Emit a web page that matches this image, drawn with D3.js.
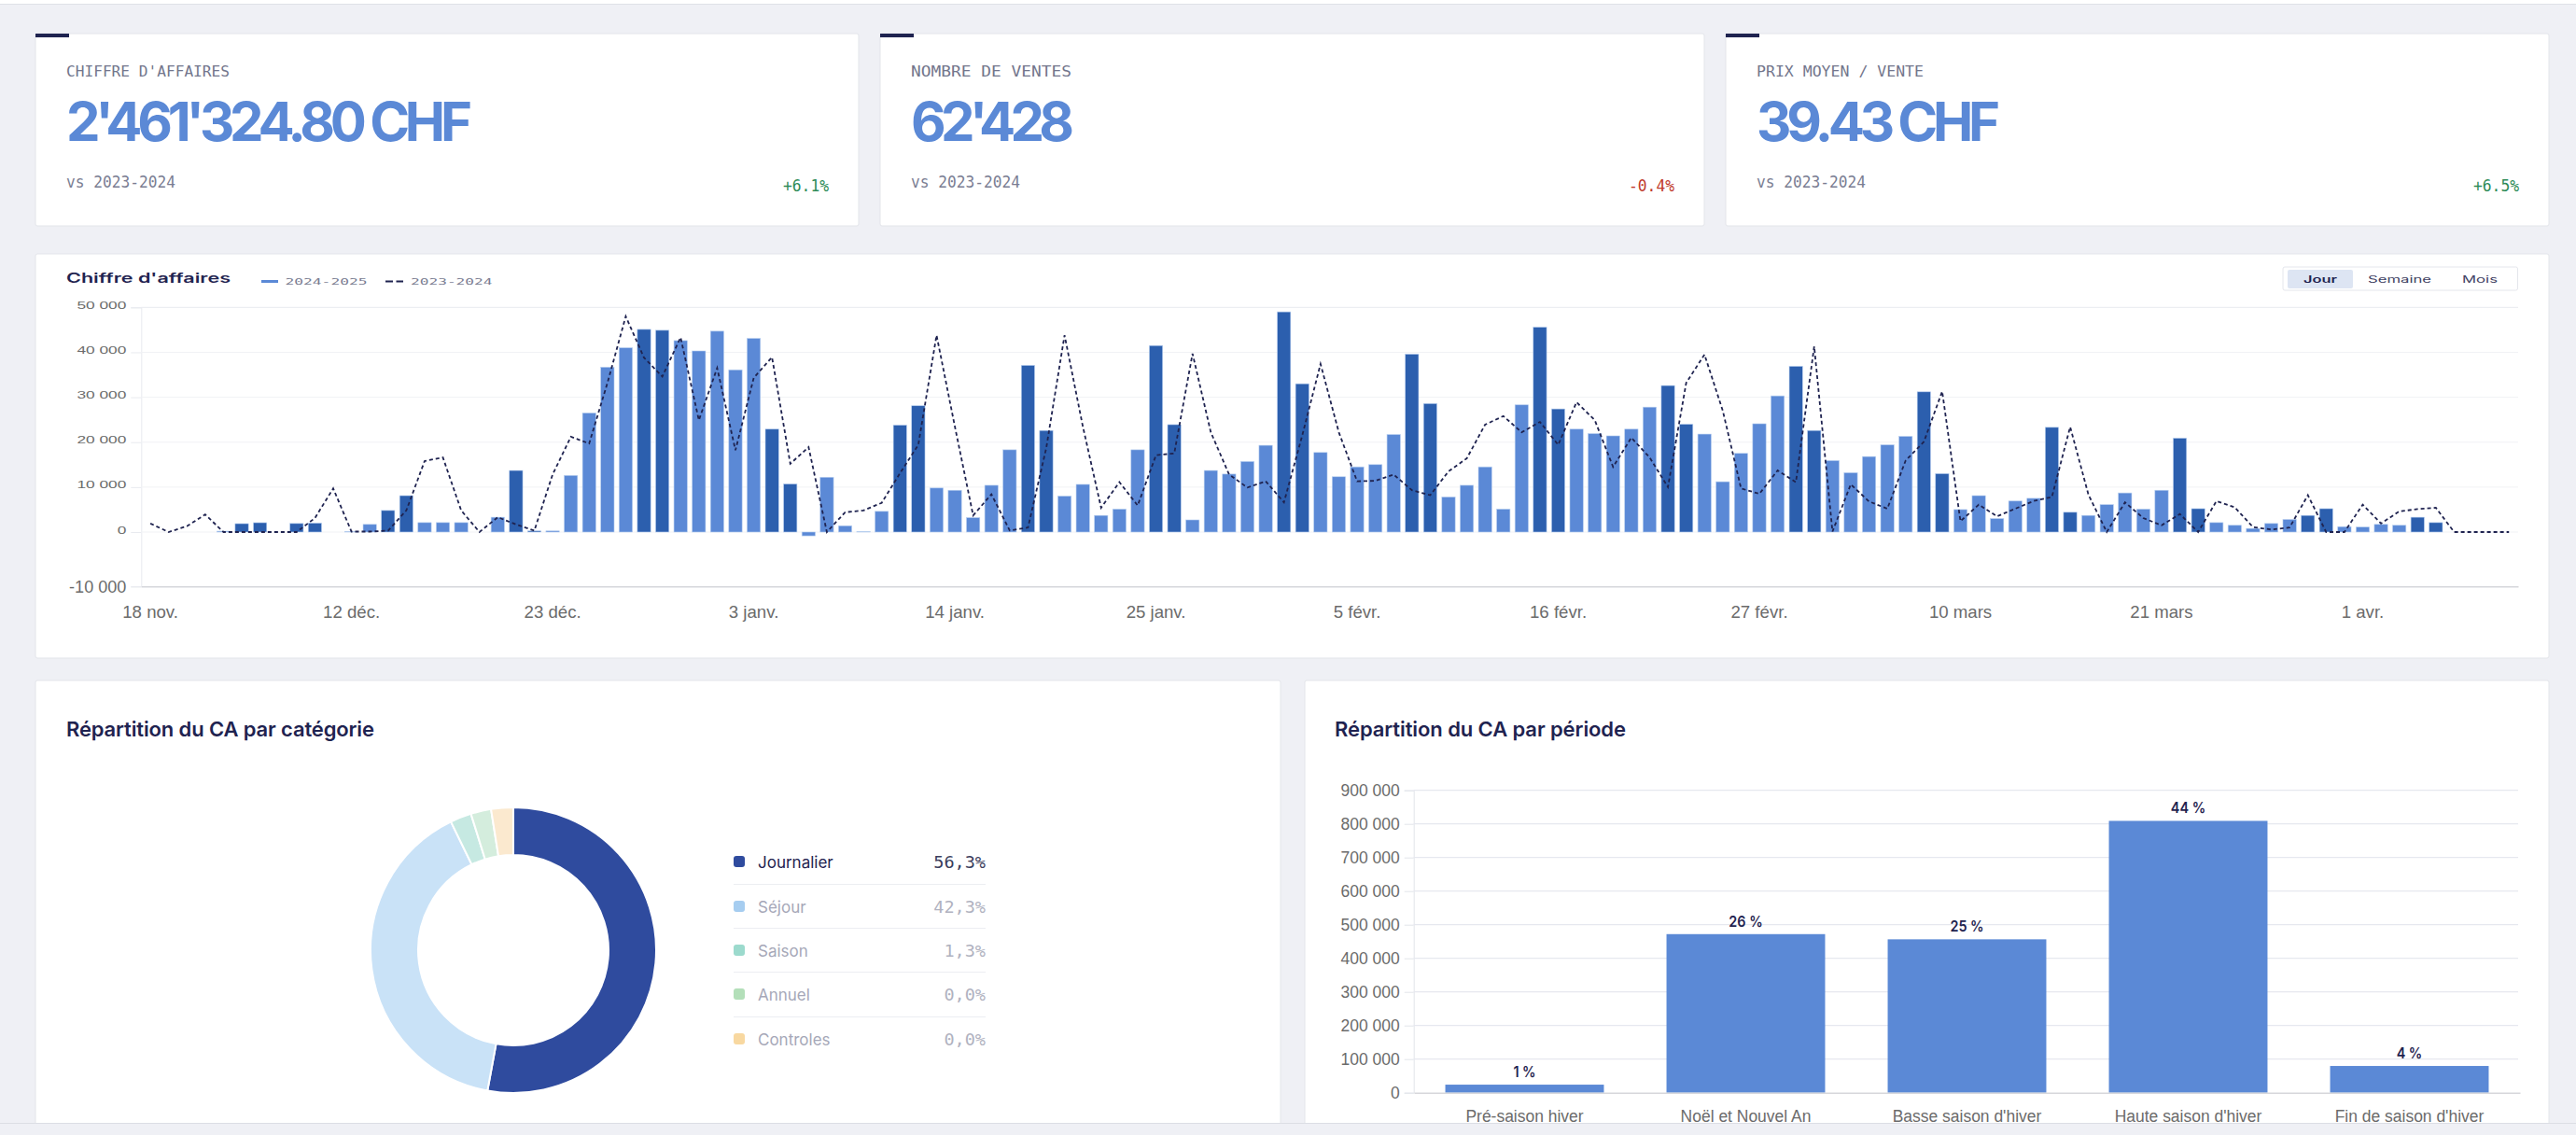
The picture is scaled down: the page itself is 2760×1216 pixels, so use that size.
<!DOCTYPE html>
<html lang="fr">
<head>
<meta charset="utf-8">
<title>Tableau de bord CA</title>
<script src="https://cdnjs.cloudflare.com/ajax/libs/d3/7.0.0/d3.min.js"></script>
<style>
  html, body { margin: 0; padding: 0; background: #eff0f5; }
  svg { display: block; }
  text { font-family: "Inter", sans-serif; }
  .mono { font-family: "DejaVu Sans Mono", monospace; }
  .arial { font-family: "Liberation Sans", Arial, sans-serif; }
</style>
</head>
<body>
<svg id="page" width="2760" height="1216"></svg>
<script>
// KPI cards
const kpiLabels = ["CHIFFRE D'AFFAIRES", "NOMBRE DE VENTES", "PRIX MOYEN / VENTE"];
const kpiValues = ["2'461'324.80 CHF", "62'428", "39.43 CHF"];
const kpiDeltas = ["+6.1%", "-0.4%", "+6.5%"];
const kpiCompare = "vs 2023-2024";

// daily chart, 130 days
const dayTickIndex = [0, 11, 22, 33, 44, 55, 66, 77, 88, 99, 110, 121];
const dayTickLabels = ["18 nov.", "12 déc.", "23 déc.", "3 janv.", "14 janv.", "25 janv.", "5 févr.", "16 févr.", "27 févr.", "10 mars", "21 mars", "1 avr."];
const sales2425 = [
  0, 0, 0, 0, 200, 1870, 2080, 0, 1900, 2000,
  0, 150, 1700, 4800, 8100, 2100, 2100, 2100, 0, 3300,
  13700, 250, 250, 12600, 26500, 36700, 41000, 45100, 44900, 42600,
  40300, 44700, 36100, 43100, 22900, 10700, -700, 12200, 1400, 100,
  4600, 23800, 28100, 9800, 9300, 3200, 10400, 18300, 37100, 22600,
  8000, 10600, 3700, 5100, 18300, 41500, 23900, 2700, 13700, 12900,
  15700, 19300, 49000, 33000, 17700, 12300, 14500, 15000, 21700, 39600,
  28600, 7800, 10400, 14500, 5100, 28300, 45600, 27400, 22900, 21900,
  21400, 22900, 27800, 32600, 24000, 21800, 11200, 17500, 24100, 30300,
  36900, 22600, 15900, 13200, 16800, 19400, 21300, 31200, 13000, 5000,
  8100, 3000, 6900, 7500, 23300, 4400, 3700, 6100, 8700, 5100,
  9300, 20900, 5200, 2100, 1500, 800, 1900, 2800, 3700, 5200,
  1200, 1100, 1700, 1500, 3300, 2100, 0, 0, 0, 0
];
const sales2324 = [
  1900, 0, 1300, 3900, 0, 0, 0, 0, 0, 3100,
  9700, 100, 100, 300, 4800, 15800, 16600, 4800, 0, 3300,
  1700, 300, 12800, 21200, 19700, 33200, 48000, 38800, 34600, 43300,
  24900, 36500, 18200, 34300, 38900, 15200, 18900, 0, 4400, 4800,
  6500, 13100, 19400, 43800, 23500, 3700, 8400, 350, 1000, 18700,
  43800, 23500, 5400, 11100, 5900, 17100, 17500, 39700, 22200, 12800,
  9900, 11300, 6600, 21500, 37400, 22200, 11300, 11400, 12800, 9300,
  8200, 13500, 16400, 23900, 25800, 22200, 24500, 19400, 28900, 24900,
  14500, 21000, 16600, 10000, 33200, 39500, 27000, 9700, 8500, 13700,
  11100, 41300, 100, 10600, 6800, 5200, 15900, 20100, 31300, 2400,
  6100, 3500, 5200, 6900, 7800, 23400, 8300, 0, 6600, 3100,
  1500, 4000, 0, 6900, 5500, 1100, 550, 1000, 8200, 0,
  0, 6100, 1900, 4600, 5100, 5400, 0, 0, 0, 0
];
const darkDays = [5, 6, 8, 9, 13, 14, 20, 21, 27, 28, 34, 35, 41, 42, 48, 49, 55, 56, 62, 63, 69, 70, 76, 77, 83, 84, 90, 91, 97, 98, 104, 105, 111, 112, 118, 119, 124, 125];
const dayYTicks = [-10000, 0, 10000, 20000, 30000, 40000, 50000];
const seriesNames = ["2024-2025", "2023-2024"];
const periodButtons = ["Jour", "Semaine", "Mois"];

// donut
const catNames = ["Journalier", "Séjour", "Saison", "Annuel", "Controles"];
const catShares = [52.9, 39.9, 2.4, 2.3, 2.5];
const catLabels = ["56,3%", "42,3%", "1,3%", "0,0%", "0,0%"];
const catColors = ["#2f4b9e", "#c9e2f7", "#c6e9e2", "#d4eddd", "#fbe9cf"];
const catSwatches = ["#2f4b9e", "#a6cdf0", "#9cdacd", "#b3dfb9", "#f8d8a0"];

// period bars
const periodNames = ["Pré-saison hiver", "Noël et Nouvel An", "Basse saison d'hiver", "Haute saison d'hiver", "Fin de saison d'hiver"];
const periodValues = [24000, 472000, 456500, 809000, 79600];
const periodPct = ["1 %", "26 %", "25 %", "44 %", "4 %"];
const periodTicks = [0, 100000, 200000, 300000, 400000, 500000, 600000, 700000, 800000, 900000];

const NAVY = "#1f2350", BLUE = "#5b89d6", DARK = "#2c5fae";
const spaced = d3.format(",");
const fmt = d => spaced(d).replace(/,/g, " ").replace("\u2212", "-");

const svg = d3.select("#page");

function card(x, y, w, h) {
  svg.append("rect").attr("x", x).attr("y", y).attr("width", w).attr("height", h)
    .attr("rx", 2).attr("fill", "#fff").attr("stroke", "#e3e5ea");
}
function label(parent, str, x, y, size, color, cls) {
  return parent.append("text").attr("class", cls || null).attr("x", x).attr("y", y)
    .attr("font-size", size).attr("fill", color).text(str);
}
// squeezes or stretches text to the width measured on the picture
function fit(sel, w, glyphs) {
  sel.attr("textLength", w).attr("lengthAdjust", glyphs ? "spacingAndGlyphs" : "spacing");
  return sel;
}
function stretch(sel, k) {
  sel.each(function () {
    const n = this.getComputedTextLength();
    d3.select(this).attr("textLength", n * k).attr("lengthAdjust", "spacingAndGlyphs");
  });
}

// page header strip
svg.append("rect").attr("width", 2760).attr("height", 4).attr("fill", "#fff");
svg.append("line").attr("x1", 0).attr("x2", 2760).attr("y1", 4.5).attr("y2", 4.5).attr("stroke", "#dfe1e7");

// ---- KPI cards
const kpiX = [38, 943, 1849];
const kpiW = [882, 883, 882];
const labelW = [175, 172, 179];
const valueW = [435, 175, 261];
const deltaColor = ["#2e8b57", "#c0392b", "#2e8b57"];
kpiLabels.forEach((t, i) => {
  const x = kpiX[i], tx = x + 33;
  card(x, 36, kpiW[i], 206);
  svg.append("rect").attr("x", x).attr("y", 36).attr("width", 36).attr("height", 4).attr("fill", NAVY);
  fit(label(svg, t, tx, 82, 15.5, "#73768c", "mono"), labelW[i], true);
  fit(label(svg, kpiValues[i], tx, 151, 58, BLUE).attr("font-weight", 700), valueW[i]);
  fit(label(svg, kpiCompare, tx, 201, 17, "#7a7d92", "mono"), 117, true);
  fit(label(svg, kpiDeltas[i], x + kpiW[i] - 32, 205, 17, deltaColor[i], "mono").attr("text-anchor", "end"), 49, true);
});

// ---- daily chart
card(38, 272, 2693, 433);
fit(label(svg, "Chiffre d'affaires", 71, 303, 14, NAVY).attr("font-weight", 600), 176, true);
svg.append("rect").attr("x", 280).attr("y", 300).attr("width", 18).attr("height", 3).attr("fill", BLUE);
fit(label(svg, seriesNames[0], 305.5, 304.5, 9.5, "#7a7d92", "mono"), 88, true);
svg.append("line").attr("x1", 413).attr("x2", 432).attr("y1", 301.5).attr("y2", 301.5)
  .attr("stroke", NAVY).attr("stroke-width", 2).attr("stroke-dasharray", "8 3.5");
fit(label(svg, seriesNames[1], 440, 304.5, 9.5, "#7a7d92", "mono"), 87.5, true);

svg.append("rect").attr("x", 2446).attr("y", 286).attr("width", 251.5).attr("height", 25)
  .attr("rx", 2).attr("fill", "#fff").attr("stroke", "#e4e6ec");
svg.append("rect").attr("x", 2451).attr("y", 289).attr("width", 70).attr("height", 20)
  .attr("rx", 2).attr("fill", "#dde5f3");
const btnX = [2468, 2537, 2638], btnW = [36, 68, 38];
periodButtons.forEach((t, i) => {
  fit(label(svg, t, btnX[i], 302.5, 10, i === 0 ? NAVY : "#3f4263").attr("font-weight", i === 0 ? 600 : 400), btnW[i], true);
});

const dayX = d3.scaleBand().domain(d3.range(sales2425.length)).range([151.3, 2698]).paddingInner(0.27).paddingOuter(0.135);
// the picture spaces the -10 000 tick wider than the others
const dayY = d3.scaleLinear().domain([-10000, 0, 50000]).range([628.3, 570, 329.3]);

const dayAxisY = svg.append("g").attr("transform", "translate(151.3,0)")
  .call(d3.axisLeft(dayY).tickValues(dayYTicks).tickFormat(fmt).tickSize(11).tickPadding(5));
dayAxisY.select(".domain").attr("stroke", "#e8eaef");
dayAxisY.selectAll(".tick line").attr("stroke", "#e8eaef");
dayAxisY.selectAll("text").attr("class", "arial").attr("fill", "#6b6b6b").attr("font-size", 10)
  .attr("dy", "0.1em");
stretch(dayAxisY.selectAll("text").filter(d => d >= 0), 1.73);
const dayNeg = dayAxisY.selectAll("text").filter(d => d < 0).attr("font-size", 19).attr("dy", "0.32em");
stretch(dayNeg, 0.95);

svg.append("g").selectAll("line").data(dayYTicks.filter(d => d >= 0)).enter().append("line")
  .attr("x1", 151.3).attr("x2", 2698).attr("y1", d => dayY(d)).attr("y2", d => dayY(d))
  .attr("stroke", d => d === 50000 ? "#e8eaef" : "#f1f2f5");

svg.append("g").selectAll("rect").data(sales2425).enter().append("rect")
  .attr("x", (d, i) => dayX(i)).attr("width", dayX.bandwidth())
  .attr("y", d => Math.min(dayY(d), dayY(0))).attr("height", d => Math.abs(dayY(d) - dayY(0)))
  .attr("fill", (d, i) => darkDays.includes(i) ? DARK : BLUE)
  .attr("stroke", d => d === 0 ? "none" : "#b9d0f0").attr("stroke-width", 0.6);

const bandOffset = dayX.bandwidth() / 2;
const dayLine = d3.line().x((d, i) => dayX(i) + bandOffset).y(d => dayY(d));
svg.append("path").datum(sales2324).attr("d", dayLine).attr("fill", "none")
  .attr("stroke", NAVY).attr("stroke-width", 1.8).attr("stroke-dasharray", "4 3");

const dayAxisX = svg.append("g").attr("transform", "translate(0,628.3)")
  .call(d3.axisBottom(dayX).tickValues(dayTickIndex).tickFormat((d, i) => dayTickLabels[i]).tickSize(0).tickPadding(20));
dayAxisX.select(".domain").attr("stroke", "#d6d7db").attr("stroke-width", 1.5);
dayAxisX.selectAll("text").attr("class", "arial").attr("font-size", 19).attr("fill", "#6b6b6b");
stretch(dayAxisX.selectAll("text"), 0.98);

// ---- donut card
card(38, 729, 1334, 480);
fit(label(svg, "Répartition du CA par catégorie", 71, 789, 22, NAVY).attr("font-weight", 600), 330);

const donut = svg.append("g").attr("transform", "translate(550,1018)");
const arc = d3.arc().innerRadius(102).outerRadius(153);
donut.selectAll("path").data(d3.pie().sort(null).value(d => d)(catShares)).enter().append("path")
  .attr("d", arc).attr("fill", (d, i) => catColors[i]).attr("stroke", "#fff").attr("stroke-width", 2);

const rowY = [923, 971, 1018, 1065, 1113];
const sepY = [947, 994, 1041, 1089];
sepY.forEach(y => {
  svg.append("line").attr("x1", 786).attr("x2", 1056).attr("y1", y + 0.5).attr("y2", y + 0.5).attr("stroke", "#eceef2");
});
catNames.forEach((t, i) => {
  svg.append("rect").attr("x", 786).attr("y", rowY[i] - 6).attr("width", 12).attr("height", 12).attr("rx", 3).attr("fill", catSwatches[i]);
  label(svg, t, 812, rowY[i] + 6.5, 17, i === 0 ? NAVY : "#a6a8b8");
  label(svg, catLabels[i], 1056, rowY[i] + 6.5, 18.5, i === 0 ? "#3a3d5c" : "#b0b2c0", "mono").attr("text-anchor", "end");
});

// ---- period card
card(1398, 729, 1333, 480);
fit(label(svg, "Répartition du CA par période", 1430, 789, 22, NAVY).attr("font-weight", 600), 312);

const perX = d3.scaleBand().domain(periodNames).range([1515, 2700]).paddingInner(0.283).paddingOuter(0.1415);
const perY = d3.scaleLinear().domain([0, 900000]).range([1170.7, 846.7]);

const perAxisY = svg.append("g").attr("transform", "translate(1514.7,0)")
  .call(d3.axisLeft(perY).tickValues(periodTicks).tickFormat(fmt).tickSize(10).tickPadding(5));
perAxisY.select(".domain").attr("stroke", "#e3e5ea");
perAxisY.selectAll(".tick line").attr("stroke", "#e3e5ea");
perAxisY.selectAll("text").attr("class", "arial").attr("font-size", 18).attr("fill", "#6b6b6b");
stretch(perAxisY.selectAll("text"), 0.97);

svg.append("g").selectAll("line").data(periodTicks.slice(1)).enter().append("line")
  .attr("x1", 1514.7).attr("x2", 2698).attr("y1", d => perY(d)).attr("y2", d => perY(d))
  .attr("stroke", "#e6e8ef").attr("stroke-width", 1.2);

svg.append("g").selectAll("rect").data(periodValues).enter().append("rect")
  .attr("x", (d, i) => perX(periodNames[i])).attr("width", perX.bandwidth())
  .attr("y", d => perY(d)).attr("height", d => perY(0) - perY(d)).attr("fill", BLUE);

const perLabels = svg.append("g").selectAll("text").data(periodValues).enter().append("text")
  .attr("x", (d, i) => perX(periodNames[i]) + perX.bandwidth() / 2).attr("y", d => perY(d) - 8)
  .attr("text-anchor", "middle").attr("font-size", 16).attr("font-weight", 600).attr("fill", NAVY)
  .text((d, i) => periodPct[i]);
stretch(perLabels, 0.9);

const perAxisX = svg.append("g").attr("transform", "translate(0,1170.7)")
  .call(d3.axisBottom(perX).tickSize(0).tickPadding(19));
perAxisX.select(".domain").attr("stroke", "#d6d7db").attr("stroke-width", 1.5);
perAxisX.selectAll("text").attr("class", "arial").attr("font-size", 18).attr("fill", "#6b6b6b");
stretch(perAxisX.selectAll("text"), 0.97);

// the screenshot stops here, labels get cut off by the page bottom
svg.append("rect").attr("x", 0).attr("y", 1203).attr("width", 2760).attr("height", 13).attr("fill", "#eff0f5");
svg.append("line").attr("x1", 0).attr("x2", 2760).attr("y1", 1203.5).attr("y2", 1203.5).attr("stroke", "#dcdee4");
</script>
</body>
</html>
